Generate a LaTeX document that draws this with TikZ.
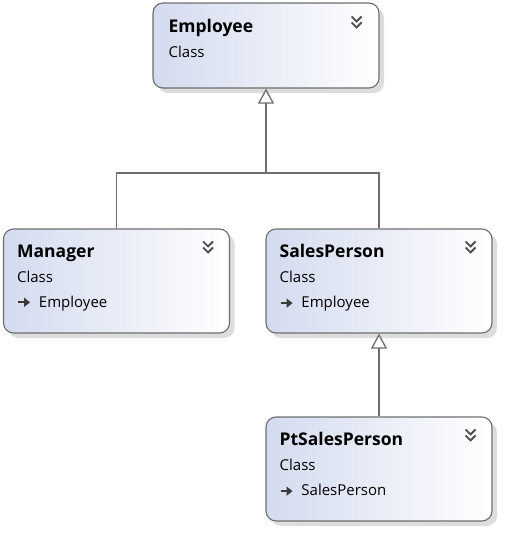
\documentclass[tikz,border=0pt]{standalone}
\usepackage{fontspec}
\setmainfont{Open Sans}
\usetikzlibrary{arrows.meta,shadows}
\definecolor{edge}{HTML}{6E6E6E}
\definecolor{clsblue}{HTML}{D4DBEF}
\definecolor{icon}{HTML}{3A3A3A}
% small "inherits from" icon in front of the base class name
\newcommand{\baseof}{\tikz[baseline=-0.6ex]\draw[icon,line width=1.8pt,-{Triangle[length=6pt,width=9pt]}] (0pt,0pt) -- (12pt,0pt);\hspace{8pt}}
\newcommand{\clsname}[1]{{\fontsize{17.5}{25}\selectfont\bfseries #1}}
\begin{document}
\begin{tikzpicture}
[x=1pt,y=-1pt,
 cls/.style={draw=edge,line width=1.1pt,rounded corners=10pt,left color=clsblue,right color=white,
   minimum width=226pt,minimum height=104pt,
   drop shadow={shadow xshift=5pt,shadow yshift=-5pt,opacity=0.22,fill=black!60}},
 txt/.style={anchor=north west,align=left,inner sep=0pt,font=\fontsize{15}{25}\selectfont},
 ar/.style={draw=edge,line width=1.3pt},
 inh/.style={ar,-{Triangle[open,length=15pt,width=16pt,fill=white]}},
 chev/.pic={\draw[icon!90,line width=1.8pt] (-5,-4) -- (0,1) -- (5,-4) (-5,2) -- (0,7) -- (5,2);}]
\useasboundingbox (0,0) rectangle (517,547);

\node [cls,minimum height=85pt] at (266,45.5) (emp) {};
\node [cls] at (116.5,281) (mgr) {};
\node [cls] at (379,281) (sp) {};
\node [cls] at (379,469) (pt) {};

\node [txt] at ([shift={(16,17)}]emp.north west) (emp-t) {\clsname{Employee}\\Class};
\node [txt] at ([shift={(14,16)}]mgr.north west) (mgr-t) {\clsname{Manager}\\Class\\\baseof Employee};
\node [txt] at ([shift={(14,16)}]sp.north west) (sp-t) {\clsname{SalesPerson}\\Class\\\baseof Employee};
\node [txt] at ([shift={(14,16)}]pt.north west) (pt-t) {\clsname{PtSalesPerson}\\Class\\\baseof SalesPerson};

\pic at ([shift={(-23,18)}]emp.north east) {chev};
\pic at ([shift={(-22,17)}]mgr.north east) {chev};
\pic at ([shift={(-22,17)}]sp.north east) {chev};
\pic at ([shift={(-22,17)}]pt.north east) {chev};

\coordinate (bus) at (266,173);
\draw [inh] (mgr.north) |- (bus) -- (emp.south);
\draw [ar] (sp.north) |- (bus);
\draw [inh] (pt.north) -- (sp.south);
\end{tikzpicture}
\end{document}
